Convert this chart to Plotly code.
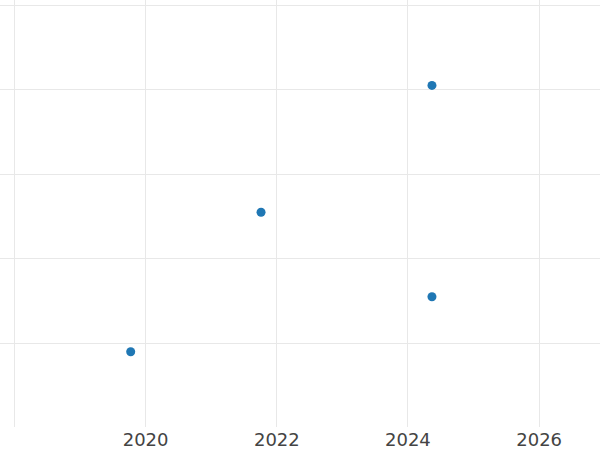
import plotly.graph_objects as go

dates = ["2019-10-10", "2021-10-05", "2024-05-14", "2024-05-14"]
values = [-0.1, 1.55, 3.05, 0.55]

x_range = ["2017-10-12", "2026-12-06"]
y_range = [-0.99, 4.06]

fig = go.Figure(
    go.Scatter(
        x=dates, y=values, mode="markers",
        marker=dict(color="#1f77b4", size=9),
    )
)
fig.update_layout(
    width=600, height=450,
    margin=dict(l=0, r=0, t=0, b=23),
    paper_bgcolor="white", plot_bgcolor="white",
    showlegend=False,
    font=dict(family="DejaVu Sans", size=18, color="#444444"),
)
fig.update_xaxes(
    type="date", range=x_range, dtick="M24",
    showgrid=True, gridcolor="#e8e8e8", gridwidth=1,
    zeroline=False, showline=False, ticks="", tickformat="%Y",
)
fig.update_yaxes(
    range=y_range, dtick=1, showgrid=True, gridcolor="#e8e8e8", gridwidth=1,
    zeroline=False, showline=False, showticklabels=False, ticks="",
)
fig.write_html("out.html", config={"displayModeBar": False},
               post_script="document.body.style.margin='0';")
